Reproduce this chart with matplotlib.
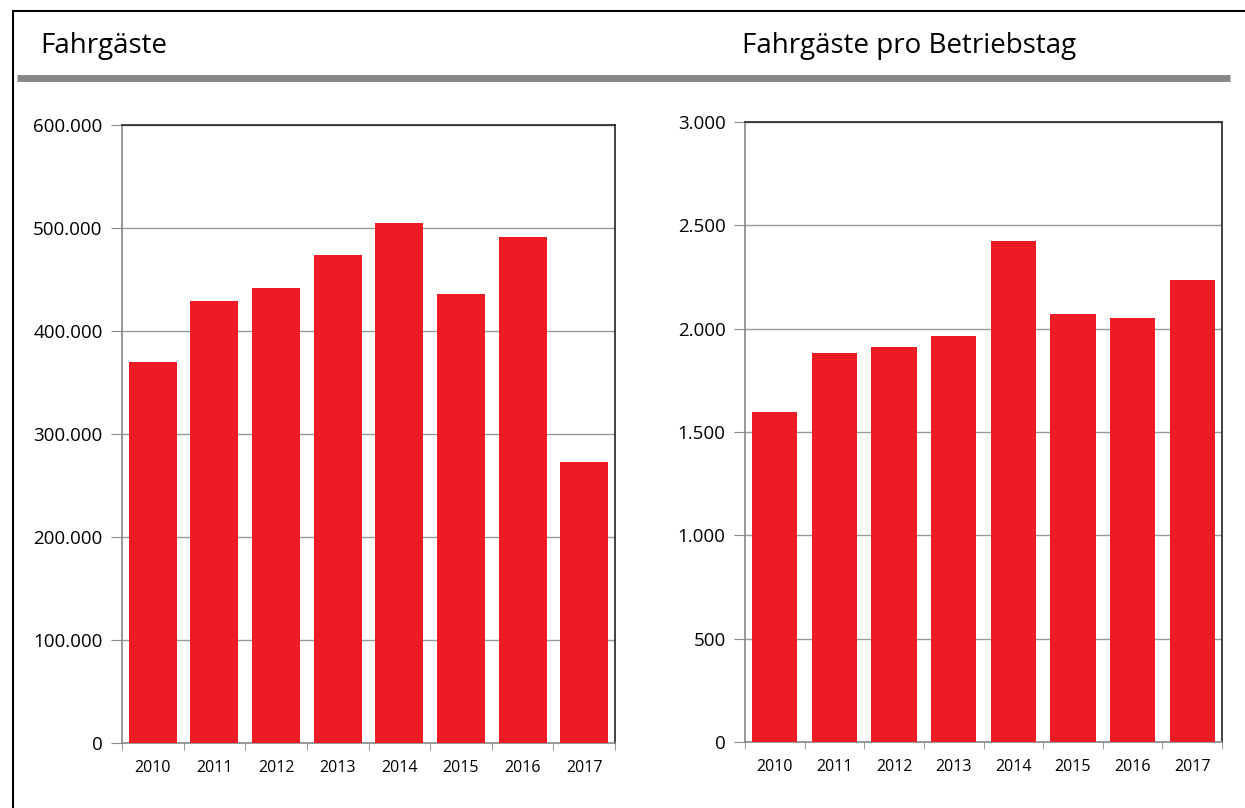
import matplotlib.pyplot as plt
from matplotlib.ticker import FuncFormatter, FixedLocator
from matplotlib.lines import Line2D
import numpy as np

years = ['2010', '2011', '2012', '2013', '2014', '2015', '2016', '2017']
fahrgaeste = [370000, 429000, 441500, 473500, 505000, 436000, 491000, 272500]
pro_tag = [1597, 1882, 1911, 1964, 2424, 2071, 2051, 2235]

red = '#ED1C24'
plt.rcParams['font.family'] = ['Open Sans', 'DejaVu Sans']

def de_fmt(v, pos):
    return f'{int(v):,}'.replace(',', '.')

fig = plt.figure(figsize=(12.45, 8.08), dpi=100)

# Rahmen und graue Linie
W, H = 1245, 808
fig.add_artist(Line2D([13 / W, 13 / W], [0, 1 - 11 / H], color='black', lw=1.5))
fig.add_artist(Line2D([13 / W, 1], [1 - 11 / H, 1 - 11 / H], color='black', lw=1.5))
fig.add_artist(Line2D([17 / W, 1230 / W], [1 - 78 / H, 1 - 78 / H], color='#888888', lw=5, solid_capstyle='butt'))

fig.text(40 / W, 1 - 46 / H, 'Fahrgäste', fontsize=20, va='center', ha='left')
fig.text(742 / W, 1 - 46 / H, 'Fahrgäste pro Betriebstag', fontsize=20, va='center', ha='left')

def panel(rect, values, ymax, step, width):
    ax = fig.add_axes(rect)
    x = np.arange(len(years))
    ax.bar(x, values, width=width, color=red, zorder=3)
    ax.set_xlim(-0.5, len(years) - 0.5)
    ax.set_ylim(0, ymax)
    ax.set_yticks(np.arange(0, ymax + 1, step))
    ax.yaxis.set_major_formatter(FuncFormatter(de_fmt))
    ax.grid(axis='y', color='#999999', lw=1, zorder=0)
    ax.set_xticks(x)
    ax.set_xticklabels(years, fontsize=11.5)
    ax.xaxis.set_minor_locator(FixedLocator(np.arange(-0.5, len(years), 1)))
    ax.tick_params(axis='x', which='major', length=0, pad=12)
    ax.tick_params(axis='x', which='minor', length=5, color='#888888', direction='out')
    ax.tick_params(axis='y', length=8, color='#888888', labelsize=13.5, pad=6)
    ax.spines['left'].set_color('#888888')
    ax.spines['bottom'].set_color('#888888')
    ax.spines['top'].set_color('#222222')
    ax.spines['right'].set_color('#222222')
    for s in ax.spines.values():
        s.set_linewidth(1.2)
    return ax

panel([122 / W, 1 - 743 / H, (615 - 122) / W, (743 - 125) / H], fahrgaeste, 600000, 100000, 0.78)
panel([745 / W, 1 - 742 / H, (1222 - 745) / W, (742 - 122) / H], pro_tag, 3000, 500, 0.76)

plt.savefig('out.png', dpi=100)
